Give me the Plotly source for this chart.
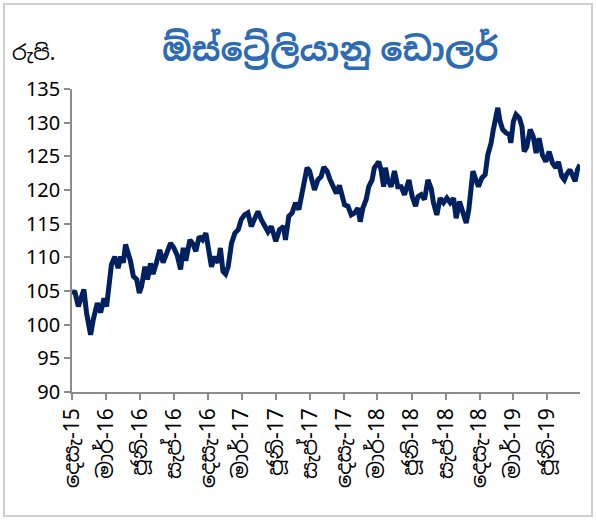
import plotly.graph_objects as go

dates = [
    "2015-12-01", "2015-12-09", "2015-12-18", "2015-12-27", "2016-01-02", "2016-01-09",
    "2016-01-20", "2016-01-27", "2016-02-07", "2016-02-16", "2016-02-25", "2016-03-03",
    "2016-03-10", "2016-03-16", "2016-03-25", "2016-04-03", "2016-04-10", "2016-04-17",
    "2016-04-23", "2016-04-30", "2016-05-06", "2016-05-14", "2016-05-23", "2016-05-30",
    "2016-06-05", "2016-06-14", "2016-06-21", "2016-06-29", "2016-07-06", "2016-07-15",
    "2016-07-24", "2016-08-02", "2016-08-11", "2016-08-22", "2016-08-31", "2016-09-09",
    "2016-09-18", "2016-09-25", "2016-10-02", "2016-10-13", "2016-10-22", "2016-10-29",
    "2016-11-07", "2016-11-16", "2016-11-25", "2016-12-04", "2016-12-10", "2016-12-19",
    "2016-12-28", "2017-01-03", "2017-01-10", "2017-01-17", "2017-01-24", "2017-02-02",
    "2017-02-11", "2017-02-20", "2017-02-28", "2017-03-09", "2017-03-18", "2017-03-27",
    "2017-04-05", "2017-04-14", "2017-04-23", "2017-05-02", "2017-05-11", "2017-05-20",
    "2017-06-01", "2017-06-11", "2017-06-22", "2017-06-27", "2017-07-06", "2017-07-15",
    "2017-07-24", "2017-08-02", "2017-08-11", "2017-08-17", "2017-08-24", "2017-08-31",
    "2017-09-07", "2017-09-13", "2017-09-22", "2017-10-01", "2017-10-08", "2017-10-17",
    "2017-10-25", "2017-11-02", "2017-11-11", "2017-11-19", "2017-12-03", "2017-12-12",
    "2017-12-21", "2017-12-30", "2018-01-08", "2018-01-14", "2018-01-21", "2018-01-30",
    "2018-02-06", "2018-02-15", "2018-02-21", "2018-03-05", "2018-03-11", "2018-03-18",
    "2018-03-23", "2018-03-29", "2018-04-07", "2018-04-16", "2018-04-25", "2018-05-04",
    "2018-05-13", "2018-05-25", "2018-06-03", "2018-06-12", "2018-06-18", "2018-06-27",
    "2018-07-06", "2018-07-15", "2018-07-24", "2018-07-30", "2018-08-08", "2018-08-17",
    "2018-08-26", "2018-09-04", "2018-09-13", "2018-09-22", "2018-09-29", "2018-10-08",
    "2018-10-17", "2018-10-26", "2018-11-02", "2018-11-08", "2018-11-13", "2018-11-21",
    "2018-11-28", "2018-12-07", "2018-12-16", "2018-12-23", "2019-01-01", "2019-01-07",
    "2019-01-12", "2019-01-19", "2019-01-25", "2019-02-01", "2019-02-10", "2019-02-19",
    "2019-02-23", "2019-03-02", "2019-03-09", "2019-03-18", "2019-03-25", "2019-03-31",
    "2019-04-07", "2019-04-16", "2019-04-24", "2019-05-02", "2019-05-10", "2019-05-19",
    "2019-05-28", "2019-06-06", "2019-06-15", "2019-06-24", "2019-07-01", "2019-07-10",
    "2019-07-17", "2019-07-23", "2019-08-01", "2019-08-08", "2019-08-15", "2019-08-21",
    "2019-08-28",
]

aud_rate = [
    104.9, 104.8, 102.7, 104.2, 105.2, 101.8,
    98.5, 100.7, 103.2, 101.8, 103.9, 102.7,
    105.7, 108.9, 110.1, 108.4, 110.1, 109.2,
    111.9, 110.5, 109.5, 107.2, 106.7, 104.7,
    105.7, 108.6, 106.7, 109.1, 107.5, 109.2,
    111.1, 109.2, 110.5, 112.1, 111.4, 110.3,
    108.2, 111.4, 109.5, 112.6, 111.9, 110.9,
    113.1, 112.6, 113.6, 110.5, 108.6, 110.1,
    109.2, 111.4, 107.9, 107.5, 108.6, 112.1,
    113.6, 114.1, 115.6, 116.3, 116.6, 114.6,
    115.6, 116.8, 115.6, 114.6, 113.8, 114.6,
    112.4, 114.1, 114.6, 112.6, 116.1, 116.6,
    118.1, 117.1, 119.5, 122.0, 123.3, 122.8,
    121.5, 120.0, 121.5, 122.0, 123.4, 122.8,
    121.5, 120.5, 119.5, 120.7, 117.8, 117.6,
    116.3, 116.6, 117.3, 115.3, 117.3, 118.6,
    120.5, 121.5, 123.3, 124.2, 123.0, 120.5,
    123.3, 121.5, 120.5, 122.8, 120.5, 120.5,
    119.3, 121.5, 119.0, 117.6, 119.0, 119.3,
    118.6, 121.5, 120.2, 118.1, 116.3, 118.8,
    118.1, 118.8, 118.1, 118.8, 115.8, 118.3,
    116.6, 115.1, 117.1, 121.5, 122.8, 121.5,
    120.5, 121.8, 122.3, 125.2, 127.0, 129.0,
    130.2, 132.2, 130.2, 129.0, 128.5, 128.2,
    127.0, 130.2, 131.2, 130.7, 129.4, 125.7,
    126.4, 129.0, 128.0, 125.5, 127.7, 125.2,
    124.2, 125.7, 124.0, 123.3, 124.2, 122.0,
    121.5, 122.3, 123.0, 122.0, 121.3, 123.0,
    123.75,
]

tick_dates = [
    "2015-12-01", "2016-03-01", "2016-06-01", "2016-09-01", "2016-12-01",
    "2017-03-01", "2017-06-01", "2017-09-01", "2017-12-01", "2018-03-01",
    "2018-06-01", "2018-09-01", "2018-12-01", "2019-03-01", "2019-06-01",
]
tick_labels = [
    "දෙසැ-15", "මාර්-16", "ජූනි-16", "සැප්-16", "දෙසැ-16",
    "මාර්-17", "ජූනි-17", "සැප්-17", "දෙසැ-17", "මාර්-18",
    "ජූනි-18", "සැප්-18", "දෙසැ-18", "මාර්-19", "ජූනි-19",
]
y_ticks = [90, 95, 100, 105, 110, 115, 120, 125, 130, 135]

title_text = "ඕස්ට්‍රේලියානු ඩොලර්"
unit_text = "රුපි."

FONT = "Noto Sans, Noto Sans Sinhala, DejaVu Sans, sans-serif"

fig = go.Figure()
fig.add_trace(go.Scatter(
    x=dates, y=aud_rate, mode="lines",
    line=dict(color="#002060", width=5),
    showlegend=False,
))

L, R, T, B = 72, 16, 89, 128
W, H = 596, 520
pw, ph = W - L - R, H - T - B

def px_x(x):
    return (x - L) / pw

def px_y(y):
    return (H - B - y) / ph

fig.update_layout(
    width=W, height=H,
    margin=dict(l=L, r=R, t=T, b=B, autoexpand=False),
    paper_bgcolor="white", plot_bgcolor="white",
    font=dict(family=FONT, color="#000000"),
    xaxis=dict(
        type="date",
        range=["2015-12-01", "2019-08-28"],
        tickmode="array", tickvals=tick_dates, ticktext=tick_labels,
        tickangle=-90, tickfont=dict(size=21, family=FONT),
        showgrid=False, zeroline=False,
        showline=True, linecolor="#8c8c8c", linewidth=1.5,
        ticks="outside", ticklen=6, tickcolor="#8c8c8c", tickwidth=1.5,
    ),
    yaxis=dict(
        range=[90, 135],
        tickmode="array", tickvals=y_ticks,
        tickfont=dict(size=20, family=FONT),
        showgrid=False, zeroline=False,
        showline=True, linecolor="#8c8c8c", linewidth=1.5,
        ticks="outside", ticklen=6, tickcolor="#8c8c8c", tickwidth=1.5,
    ),
    shapes=[dict(
        type="rect", xref="paper", yref="paper",
        x0=px_x(4), x1=px_x(592), y0=px_y(516), y1=px_y(4),
        line=dict(color="#d0d0d0", width=2), fillcolor="rgba(0,0,0,0)",
        layer="below",
    )],
    annotations=[
        dict(text="<b>" + title_text + "</b>", xref="paper", yref="paper",
             x=px_x(330), y=px_y(48), xanchor="center", yanchor="middle",
             showarrow=False, font=dict(size=33, color="#2E6BB3", family=FONT)),
        dict(text=unit_text, xref="paper", yref="paper",
             x=px_x(10), y=px_y(52), xanchor="left", yanchor="middle",
             showarrow=False, font=dict(size=21, color="#000000", family=FONT)),
    ],
)

fig.write_html("out.html", config={"displayModeBar": False},
               post_script="document.body.style.margin='0';")
